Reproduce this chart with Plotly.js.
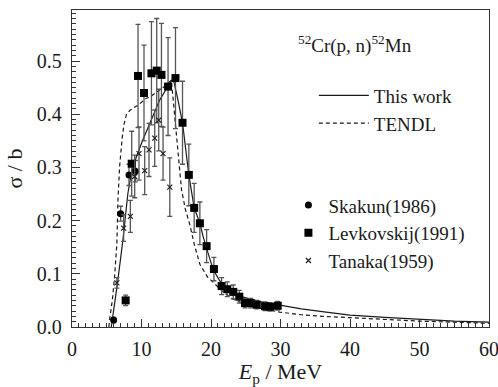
<!DOCTYPE html>
<html>
<head>
<meta charset="utf-8">
<script src="https://cdn.plot.ly/plotly-3.0.1.min.js"></script>
<style>
  html, body { margin: 0; padding: 0; background: #fff; }
  #chart { width: 498px; height: 387px; }
</style>
</head>
<body>
<div id="chart"></div>
<script>
// Calculated excitation function, 52Cr(p,n)52Mn (this work)
const workE   = [5.65, 5.75, 6.0, 6.3, 6.61, 7.0, 7.33, 7.7, 8.05, 8.54, 9.26, 10.2, 11.18, 12.0, 12.63, 13.6, 14.55, 15.2, 15.76, 15.9, 16.81, 17.58, 18.4, 18.87, 19.6, 20.32, 21.2, 22.25, 23.2, 24.17, 26.0, 28.0, 29.9, 33.0, 36.0, 40.0, 45.0, 50.0, 55.0, 60.0];
const workXS  = [0.0, 0.008, 0.033, 0.060, 0.089, 0.128, 0.164, 0.210, 0.252, 0.289, 0.320, 0.352, 0.383, 0.407, 0.427, 0.448, 0.468, 0.430, 0.389, 0.384, 0.286, 0.224, 0.195, 0.170, 0.138, 0.108, 0.088, 0.070, 0.063, 0.058, 0.051, 0.045, 0.041, 0.034, 0.029, 0.0225, 0.018, 0.014, 0.011, 0.009];

// TENDL evaluation
const tendlE  = [5.3, 5.41, 5.8, 6.13, 6.46, 6.61, 6.85, 7.05, 7.24, 7.5, 7.82, 8.3, 8.77, 9.6, 10.7, 11.18, 12.0, 12.63, 13.5, 14.3, 14.8, 15.3, 15.76, 16.3, 17.0, 17.6, 18.4, 19.5, 20.8, 22.0, 23.2, 25.6, 27.5, 29.9, 33.0, 36.0, 40.0, 45.0, 50.0, 55.0, 60.0];
const tendlXS = [0.0, 0.014, 0.05, 0.095, 0.158, 0.239, 0.302, 0.335, 0.358, 0.382, 0.399, 0.407, 0.411, 0.418, 0.430, 0.432, 0.440, 0.446, 0.454, 0.464, 0.390, 0.320, 0.258, 0.222, 0.190, 0.155, 0.118, 0.094, 0.077, 0.063, 0.052, 0.040, 0.034, 0.028, 0.023, 0.020, 0.0176, 0.014, 0.011, 0.009, 0.007];

// Measurements
const skakunE   = [5.99, 7.0, 8.2, 9.12];
const skakunXS  = [0.013, 0.213, 0.286, 0.293];
const skakunErr = [0.005, 0.014, 0.02, 0.02];

const levE   = [7.72, 8.59, 9.50, 10.36, 11.43, 12.19, 12.87, 13.82, 14.89, 15.90, 16.81, 17.58, 18.40, 19.37, 20.42, 21.53, 22.34, 23.2, 24.07, 24.89, 25.71, 26.58, 27.78, 28.5, 29.6];
const levXS  = [0.050, 0.307, 0.472, 0.440, 0.477, 0.482, 0.474, 0.452, 0.468, 0.384, 0.286, 0.224, 0.195, 0.152, 0.109, 0.077, 0.071, 0.066, 0.057, 0.045, 0.045, 0.042, 0.039, 0.038, 0.040];
const levErr = [0.010, 0.061, 0.097, 0.090, 0.097, 0.098, 0.097, 0.092, 0.095, 0.078, 0.058, 0.046, 0.040, 0.031, 0.022, 0.016, 0.014, 0.013, 0.012, 0.009, 0.009, 0.008, 0.008, 0.008, 0.008];

const tanakaE   = [6.46, 7.43, 8.40, 9.02, 9.64, 10.46, 11.08, 11.90, 12.48, 13.10, 14.07];
const tanakaXS  = [0.083, 0.186, 0.208, 0.283, 0.326, 0.294, 0.333, 0.355, 0.389, 0.326, 0.263];
const tanakaErr = [0.010, 0.025, 0.030, 0.040, 0.050, 0.045, 0.050, 0.053, 0.058, 0.050, 0.055];

const xTicks = [0, 10, 20, 30, 40, 50, 60];
const yTicks = [0.0, 0.1, 0.2, 0.3, 0.4, 0.5];

const serif = 'Liberation Serif, Times New Roman, serif';
const ink = '#1a1a1a';
const barStyle = (arr) => ({ type: 'data', array: arr, visible: true, color: '#555', thickness: 1.3, width: 2.5 });

const traces = [
  { x: workE, y: workXS, mode: 'lines', name: 'This work', legend: 'legend',
    line: { color: ink, width: 1.2 } },
  { x: tendlE, y: tendlXS, mode: 'lines', name: 'TENDL', legend: 'legend',
    line: { color: ink, width: 1.2, dash: '4px,3px' } },
  { x: skakunE, y: skakunXS, mode: 'markers', name: 'Skakun(1986)', legend: 'legend2',
    marker: { symbol: 'circle', size: 7, color: '#000' }, error_y: barStyle(skakunErr) },
  { x: levE, y: levXS, mode: 'markers', name: 'Levkovskij(1991)', legend: 'legend2',
    marker: { symbol: 'square', size: 8, color: '#000' }, error_y: barStyle(levErr) },
  { x: tanakaE, y: tanakaXS, mode: 'markers', name: 'Tanaka(1959)', legend: 'legend2',
    marker: { symbol: 'x-thin', size: 5, color: '#222', line: { width: 1.2, color: '#222' } },
    error_y: barStyle(tanakaErr) }
];

const axisCommon = {
  showgrid: false, zeroline: false,
  showline: true, linecolor: '#333', linewidth: 1.2, mirror: true,
  ticks: 'inside', ticklen: 8, tickwidth: 1, tickcolor: '#333',
  ticklabeloverflow: 'allow',
  tickfont: { family: serif, size: 20, color: ink }
};

const layout = {
  width: 498, height: 387,
  margin: { l: 72, r: 9, t: 10, b: 60 },
  paper_bgcolor: '#fff', plot_bgcolor: '#fff',
  font: { family: serif, color: ink },
  xaxis: Object.assign({}, axisCommon, {
    range: [0, 60], tickvals: xTicks, ticktext: xTicks.map(String),
    minor: { dtick: 1, ticks: 'inside', ticklen: 4, tickcolor: '#333', tickwidth: 1 },
    ticklabelstandoff: 4,
    title: { text: '<i>E</i><sub>p</sub> / MeV', font: { family: serif, size: 22, color: ink }, standoff: 6 }
  }),
  yaxis: Object.assign({}, axisCommon, {
    range: [0, 0.596], tickvals: yTicks, ticktext: yTicks.map(v => v.toFixed(1)),
    minor: { dtick: 0.01, ticks: 'inside', ticklen: 4, tickcolor: '#333', tickwidth: 1 },
    ticklabelstandoff: 5,
    title: { text: 'σ / b', font: { family: serif, size: 22, color: ink }, standoff: 8 }
  }),
  legend: {
    x: 0.58, y: 0.79, xanchor: 'left', yanchor: 'top',
    bgcolor: 'rgba(0,0,0,0)', borderwidth: 0,
    font: { family: serif, size: 19, color: ink },
    itemwidth: 50, tracegroupgap: 0
  },
  legend2: {
    x: 0.519, y: 0.444, xanchor: 'left', yanchor: 'top',
    bgcolor: 'rgba(0,0,0,0)', borderwidth: 0,
    font: { family: serif, size: 19, color: ink },
    itemwidth: 30, tracegroupgap: 0
  },
  showlegend: true,
  annotations: [{
    xref: 'paper', yref: 'paper', x: 0.537, y: 0.89, xanchor: 'left', yanchor: 'middle',
    text: '<sup>52</sup>Cr(p, n)<sup>52</sup>Mn', showarrow: false,
    font: { family: serif, size: 19, color: ink }
  }]
};

Plotly.newPlot('chart', traces, layout, { staticPlot: true, displayModeBar: false });
</script>
</body>
</html>
